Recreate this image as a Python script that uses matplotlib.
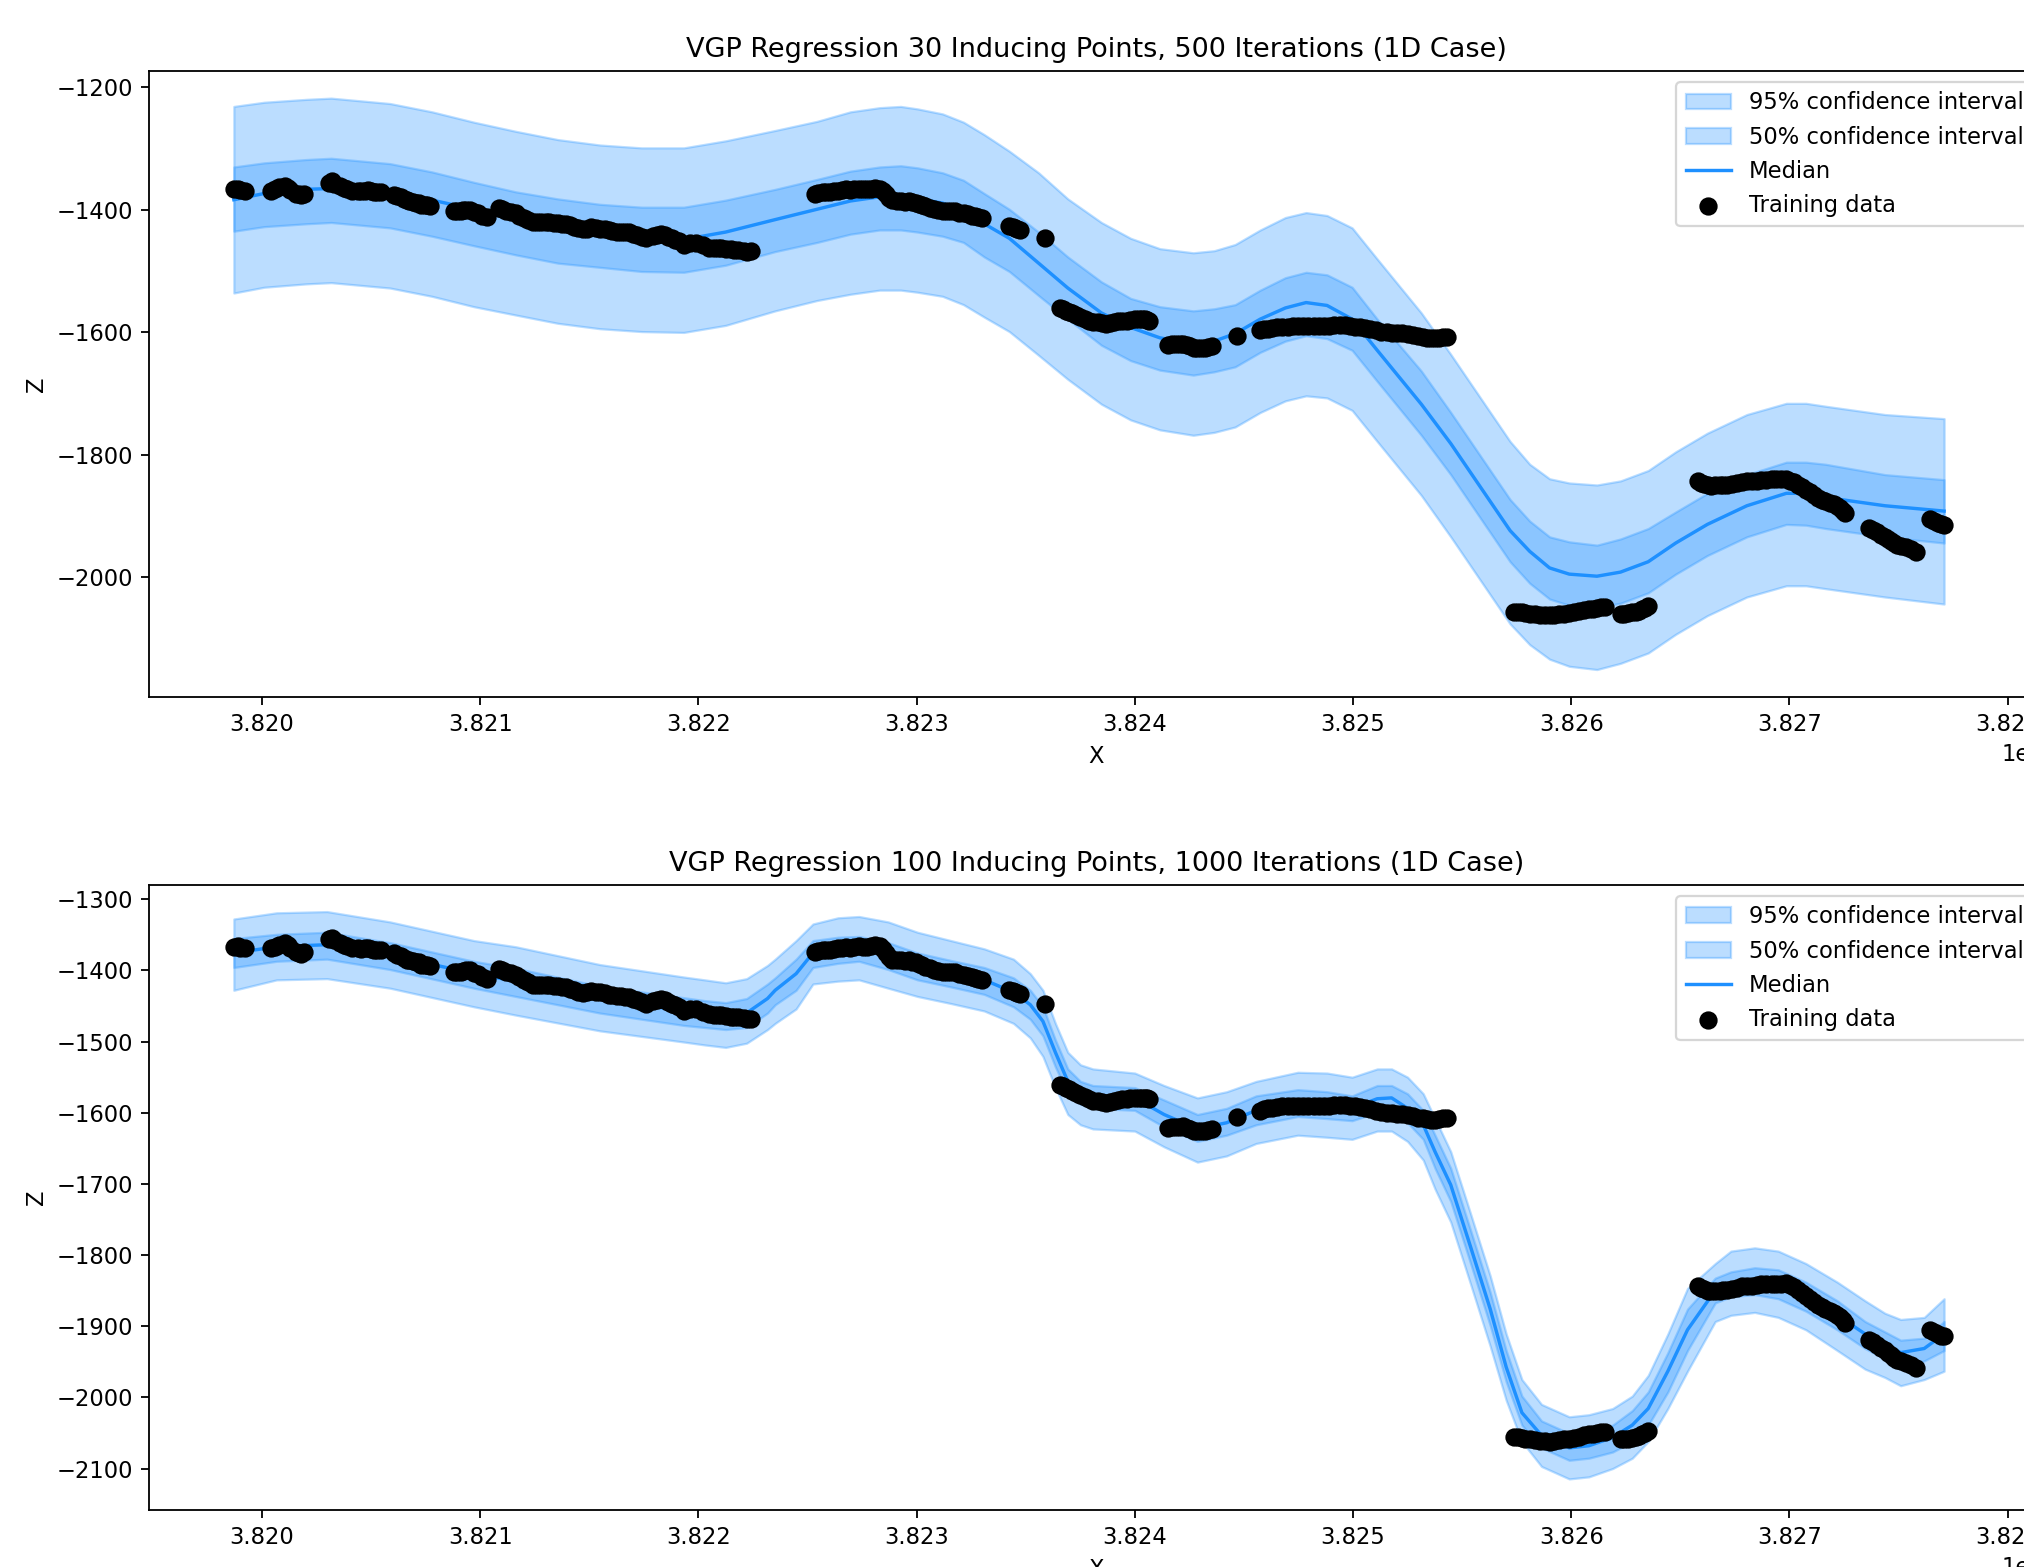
import matplotlib
matplotlib.use("Agg")
import matplotlib.pyplot as plt

# training data (same for both runs), x in metres, z
train_x = [3819871, 3819890, 3819900, 3819923, 3820040, 3820058, 3820080, 3820106, 3820120, 3820130,
           3820154, 3820170, 3820180, 3820192,
           3820308, 3820320, 3820330, 3820356, 3820375, 3820390, 3820413, 3820440, 3820455, 3820471,
           3820485, 3820500, 3820515, 3820529, 3820545,
           3820606, 3820620, 3820635, 3820650, 3820663, 3820675, 3820690, 3820705, 3820721, 3820730,
           3820745, 3820755, 3820769,
           3820880, 3820894, 3820910, 3820923, 3820937, 3820952, 3820970, 3820990, 3821010, 3821029,
           3821087, 3821100, 3821120, 3821140, 3821163, 3821180, 3821200, 3821220, 3821240, 3821260,
           3821280, 3821300, 3821317, 3821336, 3821355, 3821375, 3821394, 3821412, 3821430, 3821450,
           3821471, 3821490, 3821510, 3821529, 3821550, 3821570, 3821590, 3821606, 3821625, 3821645,
           3821665, 3821683, 3821700, 3821720, 3821740, 3821760, 3821790, 3821810, 3821827, 3821845,
           3821860, 3821877, 3821894, 3821913, 3821933, 3821960, 3821990, 3822020, 3822048, 3822070,
           3822090, 3822105, 3822125, 3822150, 3822165, 3822183, 3822210, 3822225, 3822240,
           3822534, 3822550, 3822570, 3822585, 3822602, 3822620, 3822640, 3822660, 3822678, 3822697,
           3822715, 3822735, 3822755, 3822772, 3822790, 3822810, 3822831, 3822845, 3822860, 3822875,
           3822889, 3822910, 3822930, 3822948, 3822966, 3822980, 3822995, 3823010, 3823023, 3823040,
           3823060, 3823080, 3823100, 3823120, 3823140, 3823158, 3823176, 3823195, 3823215, 3823235,
           3823253, 3823268, 3823280, 3823301,
           3823425, 3823440, 3823450, 3823460, 3823473, 3823588,
           3823655, 3823670, 3823685, 3823700, 3823713, 3823730, 3823750, 3823770, 3823789, 3823810,
           3823830, 3823848, 3823866, 3823885, 3823905, 3823925, 3823943, 3823962, 3823980, 3824000,
           3824019, 3824032, 3824045, 3824056, 3824067,
           3824153, 3824170, 3824190, 3824205, 3824220, 3824238, 3824255, 3824270, 3824287, 3824303,
           3824320, 3824337, 3824354,
           3824469,
           3824575, 3824592, 3824610, 3824630, 3824651, 3824675, 3824700, 3824723, 3824747, 3824770,
           3824795, 3824820, 3824843, 3824866, 3824890, 3824915, 3824939, 3824962, 3824985, 3825010,
           3825034, 3825057, 3825080, 3825105, 3825130, 3825155, 3825180, 3825200, 3825226, 3825250,
           3825275, 3825300, 3825322, 3825340, 3825358, 3825376, 3825395, 3825412, 3825430,
           3825738, 3825755, 3825775, 3825790, 3825810, 3825832, 3825855, 3825878, 3825901, 3825923,
           3825945, 3825968, 3825991, 3826013, 3826035, 3826058, 3826081, 3826100, 3826120, 3826137,
           3826154,
           3826226, 3826243, 3826260, 3826280, 3826298, 3826312, 3826325, 3826340, 3826353,
           3826579, 3826595, 3826610, 3826626, 3826642, 3826660, 3826680, 3826697, 3826714, 3826737,
           3826760, 3826782, 3826805, 3826827, 3826850, 3826872, 3826895, 3826918, 3826940, 3826963,
           3826986, 3827003, 3827020, 3827040, 3827058, 3827077, 3827095, 3827112, 3827130, 3827148,
           3827165, 3827185, 3827203, 3827217, 3827230, 3827244, 3827257,
           3827365, 3827383, 3827400, 3827420, 3827438, 3827452, 3827465, 3827478, 3827492, 3827513,
           3827535, 3827558, 3827582,
           3827646, 3827663, 3827680, 3827695, 3827709]
train_z = [-1367, -1366, -1368, -1369, -1369, -1367, -1364, -1362, -1365, -1368,
           -1374, -1375, -1377, -1374,
           -1356, -1354, -1358, -1362, -1365, -1366, -1369, -1369, -1370, -1369,
           -1368, -1370, -1371, -1372, -1372,
           -1376, -1378, -1380, -1383, -1385, -1386, -1387, -1389, -1389, -1392,
           -1392, -1393, -1394,
           -1402, -1403, -1403, -1401, -1400, -1400, -1404, -1405, -1410, -1412,
           -1398, -1399, -1402, -1404, -1406, -1410, -1413, -1417, -1420, -1421,
           -1421, -1420, -1421, -1422, -1422, -1423, -1423, -1426, -1428, -1430,
           -1432, -1431, -1429, -1430, -1431, -1432, -1434, -1435, -1436, -1436,
           -1437, -1437, -1440, -1442, -1445, -1447, -1443, -1441, -1440, -1442,
           -1444, -1447, -1449, -1452, -1457, -1455, -1454, -1458, -1462, -1463,
           -1463, -1463, -1464, -1465, -1466, -1466, -1467, -1469, -1468,
           -1374, -1373, -1372, -1371, -1371, -1370, -1369, -1368, -1367, -1368,
           -1367, -1366, -1367, -1367, -1366, -1365, -1366, -1370, -1375, -1381,
           -1385, -1386, -1386, -1387, -1386, -1388, -1389, -1391, -1393, -1395,
           -1397, -1399, -1401, -1402, -1402, -1402, -1403, -1405, -1406, -1408,
           -1410, -1411, -1412, -1413,
           -1427, -1429, -1430, -1432, -1433, -1447,
           -1561, -1563, -1565, -1567, -1569, -1572, -1575, -1578, -1581, -1583,
           -1584, -1585, -1586, -1585, -1584, -1582, -1581, -1581, -1580, -1579,
           -1579, -1579, -1579, -1580, -1581,
           -1621, -1620, -1620, -1620, -1619, -1621, -1623, -1625, -1626, -1626,
           -1625, -1624, -1623,
           -1606,
           -1597, -1595, -1594, -1593, -1592, -1591, -1591, -1590, -1590, -1590,
           -1590, -1590, -1590, -1590, -1590, -1589, -1589, -1589, -1590, -1591,
           -1592, -1593, -1595, -1597, -1599, -1600, -1601, -1602, -1602, -1603,
           -1605, -1607, -1608, -1609, -1610, -1610, -1609, -1608, -1608,
           -2056, -2056, -2057, -2058, -2059, -2060, -2061, -2061, -2062, -2061,
           -2060, -2059, -2058, -2057, -2055, -2053, -2052, -2051, -2050, -2049,
           -2049,
           -2059, -2059, -2058, -2057, -2056, -2054, -2052, -2050, -2047,
           -1843, -1846, -1848, -1850, -1851, -1850, -1850, -1849, -1849, -1848,
           -1846, -1844, -1843, -1843, -1842, -1841, -1841, -1840, -1840, -1840,
           -1839, -1842, -1845, -1849, -1853, -1857, -1861, -1866, -1870, -1873,
           -1876, -1879, -1881, -1884, -1887, -1891, -1895,
           -1919, -1922, -1926, -1930, -1934, -1937, -1940, -1944, -1947, -1949,
           -1951, -1954, -1958,
           -1905, -1908, -1911, -1913, -1914]

# run 1: 30 inducing points, 500 iterations
x1 = [3819871, 3820010, 3820202, 3820317, 3820587, 3820779, 3820971, 3821163, 3821356, 3821548,
      3821740, 3821933, 3822125, 3822352, 3822544, 3822697, 3822831, 3822927, 3823004, 3823119,
      3823215, 3823310, 3823425, 3823559, 3823693, 3823847, 3823981, 3824115, 3824268, 3824364,
      3824460, 3824575, 3824690, 3824785, 3824881, 3824996, 3825111, 3825313,
      3825448, 3825584, 3825720, 3825810, 3825901, 3825991, 3826118, 3826226, 3826353, 3826479,
      3826624, 3826805, 3826986, 3827076, 3827166, 3827438, 3827709]
hi95_1 = [-1231.8, -1225.0, -1220.3, -1218.3, -1227.1, -1240.6, -1257.5, -1272.4, -1285.9, -1294.7,
          -1299.4, -1299.4, -1287.9, -1271.0, -1256.1, -1240.6, -1233.8, -1231.8, -1235.8, -1244.0,
          -1257.5, -1277.8, -1304.8, -1340.0, -1382.6, -1421.1, -1446.9, -1463.8, -1470.5, -1467.1,
          -1457.0, -1433.3, -1413.0, -1404.9, -1409.7, -1429.9, -1480.7, -1568.6,
          -1636.2, -1707.2, -1778.2, -1815.4, -1839.1, -1845.9, -1849.2, -1842.5, -1825.6, -1795.1,
          -1764.7, -1734.3, -1716.0, -1716.0, -1720.8, -1734.3, -1741.0]
hi50_1 = [-1330.5, -1323.8, -1318.4, -1316.3, -1325.1, -1338.6, -1355.5, -1371.1, -1382.6, -1391.4,
          -1396.1, -1396.1, -1384.6, -1367.0, -1350.8, -1337.3, -1330.5, -1328.5, -1331.9, -1340.0,
          -1352.2, -1373.8, -1399.5, -1436.7, -1477.3, -1517.9, -1544.9, -1558.4, -1565.2, -1561.8,
          -1555.1, -1531.4, -1511.1, -1502.3, -1506.4, -1526.7, -1578.7, -1663.3,
          -1730.9, -1801.9, -1872.9, -1908.1, -1933.8, -1941.9, -1947.3, -1937.2, -1920.2, -1893.2,
          -1862.8, -1832.3, -1812.0, -1812.0, -1815.4, -1832.3, -1840.5]
med_1 = [-1384.0, -1373.8, -1367.0, -1365.7, -1371.1, -1384.6, -1399.5, -1413.0, -1426.6, -1438.7,
         -1448.2, -1448.9, -1436.7, -1416.4, -1399.5, -1386.0, -1379.2, -1379.2, -1382.6, -1389.4,
         -1402.9, -1423.2, -1446.9, -1487.4, -1528.0, -1568.6, -1592.3, -1609.2, -1619.3, -1614.6,
         -1602.4, -1578.7, -1560.5, -1551.7, -1556.4, -1578.7, -1629.5, -1717.4,
         -1781.6, -1852.6, -1923.6, -1957.5, -1984.5, -1994.6, -1998.0, -1991.3, -1974.4, -1943.9,
         -1913.5, -1883.1, -1862.8, -1862.8, -1869.5, -1883.1, -1891.8]
lo50_1 = [-1435.3, -1427.9, -1423.2, -1421.1, -1429.9, -1443.5, -1459.0, -1473.9, -1487.4, -1494.2,
          -1501.0, -1502.3, -1490.8, -1468.5, -1453.6, -1440.1, -1433.3, -1433.3, -1436.7, -1443.5,
          -1453.6, -1477.3, -1501.0, -1540.2, -1578.7, -1621.3, -1646.4, -1661.9, -1670.0, -1664.6,
          -1656.5, -1632.8, -1614.6, -1605.8, -1610.5, -1629.5, -1680.2, -1768.1,
          -1832.3, -1903.4, -1974.4, -2009.5, -2035.2, -2045.4, -2048.8, -2042.0, -2025.1, -1994.6,
          -1964.2, -1933.8, -1913.5, -1914.8, -1920.2, -1933.8, -1943.9]
lo95_1 = [-1536.1, -1526.7, -1521.2, -1519.2, -1528.0, -1541.5, -1558.4, -1572.0, -1585.5, -1594.3,
          -1599.0, -1600.4, -1588.9, -1565.2, -1548.3, -1538.1, -1531.4, -1531.4, -1534.8, -1541.5,
          -1555.1, -1575.4, -1599.0, -1637.6, -1676.8, -1717.4, -1743.1, -1759.3, -1768.1, -1763.4,
          -1754.6, -1730.9, -1712.0, -1703.8, -1707.2, -1727.5, -1778.2, -1866.2,
          -1933.8, -2004.8, -2075.8, -2109.6, -2133.3, -2144.9, -2150.2, -2140.1, -2123.2, -2092.7,
          -2062.3, -2031.9, -2013.6, -2013.6, -2018.3, -2031.9, -2043.4]

# run 2: 100 inducing points, 1000 iterations
x2 = [3819871, 3820067, 3820298, 3820587, 3820971, 3821163, 3821548, 3821933, 3822029, 3822125,
      3822221, 3822317, 3822352, 3822448, 3822525, 3822640, 3822736, 3822870, 3823004, 3823157,
      3823310, 3823444, 3823521, 3823579, 3823636, 3823693, 3823751, 3823808, 3824000, 3824134,
      3824287, 3824421, 3824556, 3824747, 3824881, 3824996, 3825111, 3825177, 3825250, 3825322,
      3825376, 3825448, 3825539, 3825629, 3825702, 3825774, 3825864, 3825991, 3826081, 3826190,
      3826280, 3826353, 3826443, 3826533, 3826660, 3826732, 3826841, 3826949, 3827076, 3827220,
      3827347, 3827438, 3827510, 3827618, 3827709]
hi95_2 = [-1327.9, -1319.2, -1317.5, -1332.0, -1358.2, -1366.9, -1391.9, -1409.4, -1413.4, -1417.5,
          -1411.7, -1393.1, -1384.3, -1358.2, -1334.9, -1326.2, -1324.4, -1332.0, -1346.5, -1358.2,
          -1369.8, -1384.3, -1404.7, -1428.0, -1474.5, -1515.2, -1532.7, -1538.5, -1544.3, -1561.8,
          -1579.2, -1570.5, -1556.0, -1543.2, -1544.3, -1550.1, -1538.5, -1538.5, -1550.1, -1573.4,
          -1608.3, -1654.8, -1742.1, -1829.4, -1910.8, -1974.8, -2009.7, -2027.1, -2024.2, -2015.5,
          -1998.0, -1969.0, -1910.8, -1846.8, -1811.9, -1794.4, -1789.8, -1794.4, -1811.9, -1838.1,
          -1864.2, -1881.7, -1890.4, -1887.5, -1861.3]
hi50_2 = [-1355.3, -1349.4, -1346.5, -1361.1, -1387.3, -1397.1, -1422.2, -1438.4, -1442.5, -1445.4,
          -1439.6, -1419.2, -1410.5, -1384.3, -1358.2, -1353.5, -1352.4, -1361.1, -1375.6, -1386.1,
          -1396.0, -1410.5, -1428.0, -1451.2, -1497.8, -1538.5, -1556.0, -1561.8, -1564.7, -1582.1,
          -1602.5, -1593.8, -1576.3, -1567.6, -1570.5, -1576.3, -1561.8, -1561.8, -1573.4, -1596.7,
          -1631.6, -1678.1, -1765.4, -1852.6, -1934.1, -1998.0, -2032.9, -2050.4, -2047.5, -2038.8,
          -2018.4, -1992.2, -1937.0, -1875.9, -1832.3, -1823.5, -1817.7, -1820.6, -1838.1, -1864.2,
          -1893.3, -1907.9, -1919.5, -1916.6, -1893.3]
med_2 = [-1375.6, -1366.9, -1364.0, -1378.5, -1404.7, -1415.2, -1439.6, -1457.1, -1460.0, -1464.0,
         -1460.0, -1439.6, -1428.0, -1404.7, -1375.6, -1369.8, -1366.9, -1378.5, -1393.1, -1403.5,
         -1413.4, -1430.9, -1448.3, -1471.6, -1515.2, -1556.0, -1570.5, -1576.3, -1579.2, -1602.5,
         -1622.8, -1614.1, -1596.7, -1585.0, -1587.9, -1593.8, -1580.4, -1579.2, -1593.8, -1617.0,
         -1654.8, -1701.4, -1788.6, -1875.9, -1957.3, -2021.3, -2053.3, -2070.8, -2067.8, -2056.2,
         -2038.8, -2015.5, -1963.1, -1905.0, -1849.7, -1841.0, -1835.2, -1841.0, -1858.4, -1884.6,
         -1910.8, -1925.3, -1937.0, -1931.2, -1910.8]
lo50_2 = [-1396.0, -1387.3, -1384.3, -1398.9, -1425.1, -1436.7, -1460.0, -1477.4, -1480.3, -1483.2,
          -1480.3, -1460.0, -1448.3, -1428.0, -1396.0, -1390.2, -1387.3, -1398.9, -1413.4, -1423.3,
          -1433.8, -1451.2, -1468.7, -1492.0, -1535.6, -1573.4, -1587.9, -1593.8, -1596.7, -1619.9,
          -1640.3, -1631.6, -1617.0, -1605.4, -1608.3, -1611.2, -1599.6, -1602.5, -1614.1, -1637.4,
          -1678.1, -1724.6, -1811.9, -1899.2, -1977.7, -2038.8, -2070.8, -2088.2, -2085.3, -2076.6,
          -2062.0, -2038.8, -1992.2, -1934.1, -1867.2, -1858.4, -1855.5, -1861.3, -1878.8, -1905.0,
          -1931.2, -1945.7, -1957.3, -1948.6, -1934.1]
lo95_2 = [-1428.0, -1413.4, -1411.7, -1425.1, -1451.2, -1462.9, -1485.0, -1500.7, -1504.8, -1508.3,
          -1502.4, -1483.2, -1474.5, -1454.2, -1419.2, -1415.2, -1413.4, -1425.1, -1436.7, -1446.6,
          -1457.1, -1474.5, -1494.9, -1521.0, -1564.7, -1602.5, -1617.0, -1622.8, -1625.8, -1647.9,
          -1669.4, -1660.7, -1643.2, -1631.6, -1634.5, -1637.4, -1625.8, -1625.8, -1640.3, -1666.5,
          -1707.2, -1753.7, -1841.0, -1928.2, -2003.9, -2062.0, -2096.9, -2114.4, -2111.5, -2099.8,
          -2085.3, -2062.0, -2015.5, -1963.1, -1893.3, -1884.6, -1880.5, -1887.5, -1905.0, -1934.1,
          -1960.2, -1971.9, -1983.5, -1974.8, -1963.1]

runs = [
    ("VGP Regression 30 Inducing Points, 500 Iterations (1D Case)",
     x1, hi95_1, hi50_1, med_1, lo50_1, lo95_1, (-2195, -1174)),
    ("VGP Regression 100 Inducing Points, 1000 Iterations (1D Case)",
     x2, hi95_2, hi50_2, med_2, lo50_2, lo95_2, (-2158, -1280)),
]

dpi = 163
fig = plt.figure(figsize=(2024 / dpi, 1567 / dpi), dpi=dpi)
# the original screenshot is cut off on the right, so axes run past the edge
boxes = [[0.0736, 0.5552, 0.9363, 0.3995], [0.0736, 0.0364, 0.9363, 0.3989]]

for box, (title, xs, h95, h50, md, l50, l95, ylim) in zip(boxes, runs):
    ax = fig.add_axes(box)
    p95 = ax.fill_between(xs, l95, h95, color='dodgerblue', alpha=0.3, label='95% confidence interval')
    p50 = ax.fill_between(xs, l50, h50, color='dodgerblue', alpha=0.3, label='50% confidence interval')
    ln, = ax.plot(xs, md, color='dodgerblue', lw=1.5, label='Median')
    sc = ax.scatter(train_x, train_z, c='k', s=50, zorder=3, label='Training data')
    ax.set_xlim(3819482, 3828167)
    ax.set_ylim(*ylim)
    ax.set_title(title)
    ax.set_xlabel('X')
    ax.set_ylabel('Z')
    ax.legend(handles=[p95, p50, ln, sc], loc='upper right')

fig.savefig('out.png', dpi=dpi)
